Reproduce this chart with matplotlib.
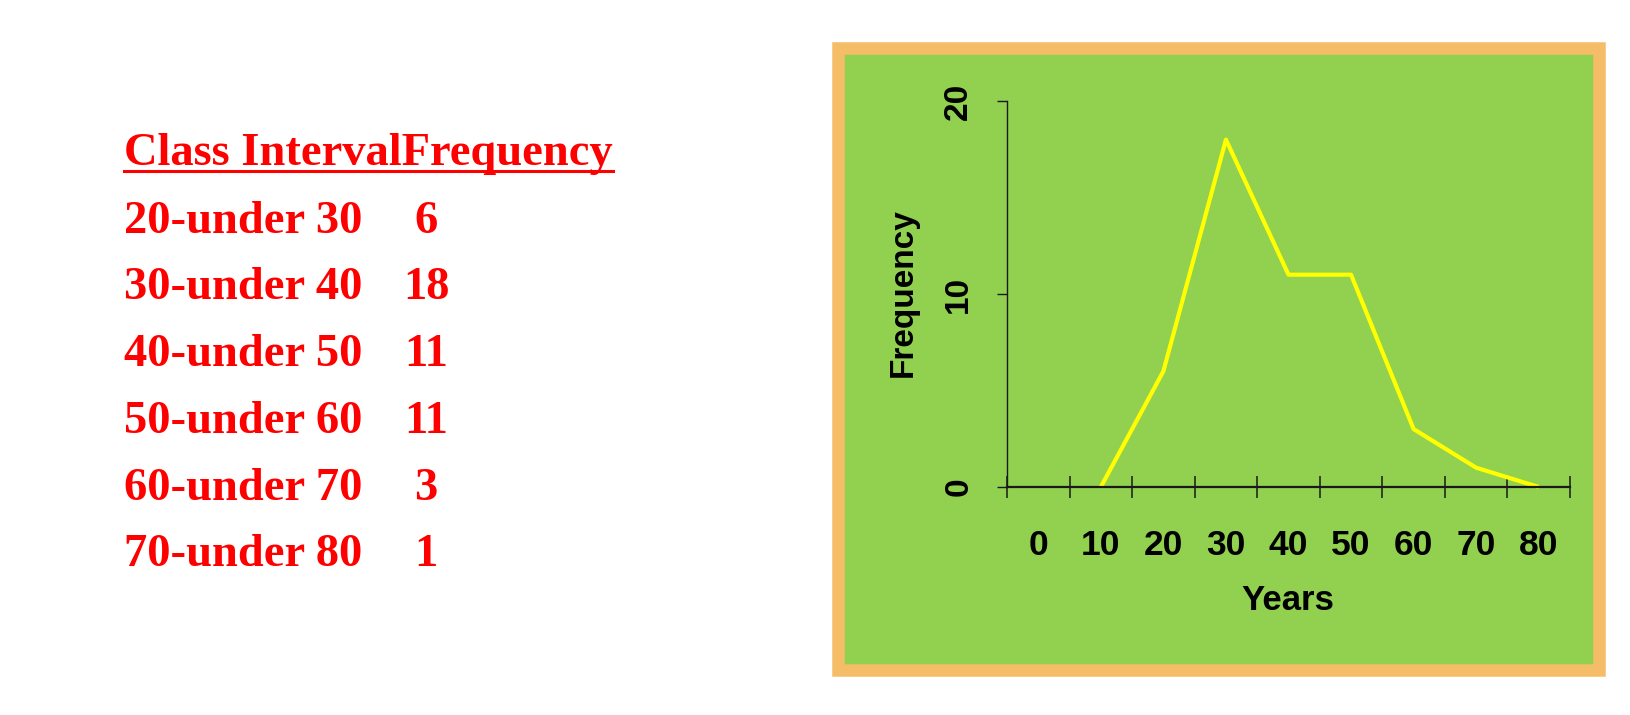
import matplotlib
matplotlib.use('Agg')
import matplotlib.pyplot as plt
from matplotlib.patches import Rectangle
from matplotlib.lines import Line2D

# table on the left
classes = ['20-under 30', '30-under 40', '40-under 50',
           '50-under 60', '60-under 70', '70-under 80']
freqs = [6, 18, 11, 11, 3, 1]

# frequency polygon
years = [10, 20, 30, 40, 50, 60, 70, 80]
poly_freq = [0, 6, 18, 11, 11, 3, 1, 0]
year_ticks = [0, 10, 20, 30, 40, 50, 60, 70, 80]
edge_ticks = [-5, 5, 15, 25, 35, 45, 55, 65, 75, 85]
freq_ticks = [0, 10, 20]

W, H = 1631, 715
fig = plt.figure(figsize=(W / 100, H / 100), dpi=100)
fig.patch.set_facecolor('white')

RED = '#FF0000'
serif = ['Liberation Serif', 'DejaVu Serif']
sans = ['Liberation Sans', 'DejaVu Sans']

# --- left text table ---
header = fig.text(124 / W, 1 - 165 / H, 'Class IntervalFrequency', color=RED,
                  family=serif, weight='bold', fontsize=33.5, va='baseline')
for i, (c, f) in enumerate(zip(classes, freqs)):
    yb = 1 - (232.7 + 66.7 * i) / H
    fig.text(124 / W, yb, c, color=RED, family=serif, weight='bold',
             fontsize=33.5, va='baseline')
    fig.text(426 / W, yb, str(f), color=RED, family=serif, weight='bold',
             fontsize=33.5, va='baseline', ha='center')

# --- green panel with orange frame ---
panel = Rectangle((838.5 / W, 1 - 670 / H), (1599.5 - 838.5) / W, (670 - 48) / H,
                  transform=fig.transFigure, facecolor='#92D050',
                  edgecolor='#F5BD68', linewidth=12.5 * 0.72, zorder=-5)
fig.patches.append(panel)

# axes placed so that x=-5..85 and y=0..20 land where the reference has them
ax = fig.add_axes([988.2 / W, 1 - 506.3 / H, 600.6 / W, 424.6 / H])
ax.patch.set_visible(False)
ax.set_zorder(2)
ax.set_xlim(-8, 88)
ax.set_ylim(-1, 21)

ax.plot(years, poly_freq, color='#FFFF00', lw=3, solid_capstyle='butt')

for s in ['top', 'right']:
    ax.spines[s].set_visible(False)
ax.spines['left'].set_position(('data', -5))
ax.spines['left'].set_bounds(0, 20)
ax.spines['left'].set_linewidth(1.0)
ax.spines['left'].set_color('#1a1a1a')
ax.spines['bottom'].set_position(('data', 0))
ax.spines['bottom'].set_bounds(-5, 85)
ax.spines['bottom'].set_linewidth(1.6)
ax.spines['bottom'].set_color('#1a1a1a')

ax.set_xticks(edge_ticks)
ax.set_xticklabels([])
ax.set_xticks(year_ticks, minor=True)
ax.set_xticklabels([str(v) for v in year_ticks], minor=True,
                   family=sans, weight='bold', fontsize=25.5)
ax.tick_params(axis='x', which='major', direction='inout', length=16,
               width=1.1, color='#1a1a1a')
ax.tick_params(axis='x', which='minor', length=0, pad=30)

ax.set_yticks(freq_ticks)
ax.set_yticklabels([str(v) for v in freq_ticks], family=sans,
                   weight='bold', fontsize=24, rotation=90, va='center')
ax.tick_params(axis='y', direction='out', length=7.5, width=1,
               color='#1a1a1a', pad=16)

ax.set_xlabel('Years', family=sans, weight='bold', fontsize=25, va='center')
ax.xaxis.set_label_coords((1288 - 988.2) / 600.6, (506.3 - 600) / 424.6)
ax.set_ylabel('Frequency', family=sans, weight='bold', fontsize=24, va='center')
ax.yaxis.set_label_coords((903 - 988.2) / 600.6, (506.3 - 293) / 424.6)

# underline the header
fig.canvas.draw()
bb = header.get_window_extent()
fig.add_artist(Line2D([bb.x0 / W, bb.x1 / W], [1 - 171 / H, 1 - 171 / H],
                      transform=fig.transFigure, color=RED, lw=2.2))

fig.savefig('out.png', dpi=100)
